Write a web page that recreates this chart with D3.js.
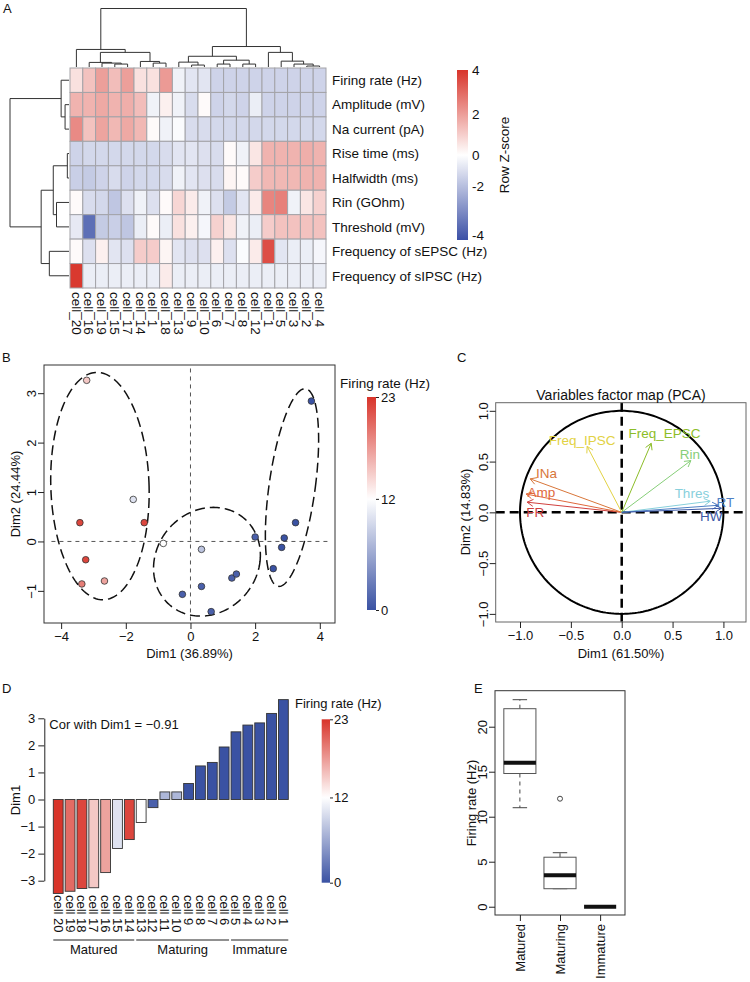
<!DOCTYPE html>
<html><head><meta charset="utf-8">
<script src="https://cdn.jsdelivr.net/npm/d3@7"></script>
<style>
body{margin:0;background:#fff}
text{font-family:"Liberation Sans",Arial,Helvetica,sans-serif;fill:#111}
</style>
</head><body>
<svg id="c" width="750" height="982"></svg>
<script>
// ================= DATA =================
// Panel A — heatmap
const heatCols = ["cell_20","cell_16","cell_19","cell_15","cell_17","cell_14","cell_1","cell_18","cell_13","cell_9","cell_10","cell_6","cell_7","cell_8","cell_12","cell_1","cell_5","cell_3","cell_2","cell_4"];
const heatRows = ["Firing rate (Hz)","Amplitude (mV)","Na current (pA)","Rise time (ms)","Halfwidth (ms)","Rin (GOhm)","Threshold (mV)","Frequency of sEPSC (Hz)","Frequency of sIPSC (Hz)"];
const zFiring = [0.6,1.2,1.9,1.3,1.9,0.6,0.6,2.0,-0.3,-0.6,-0.6,-1.0,-1.0,-1.0,-1.0,-1.0,-1.0,-1.0,-1.0,-1.0];
const zAmp    = [1.5,1.5,1.7,1.5,1.6,1.3,-0.3,0.3,-0.3,-0.8,0.1,-1.0,-0.9,-1.0,-0.4,-1.0,-1.0,-1.0,-1.0,-1.0];
const zNa     = [2.3,1.2,1.8,1.4,1.7,1.4,0.1,-0.3,-0.1,-0.8,-0.8,-0.9,-0.9,-0.9,-0.9,-0.9,-0.9,-0.9,-0.9,-0.9];
const zRise   = [-1.0,-0.9,-0.9,-0.9,-0.9,-0.9,-0.9,-0.8,-0.6,-0.6,-0.7,-0.8,0.1,-0.3,0.5,1.5,1.5,1.5,1.6,1.5];
const zHalf   = [-1.1,-1.2,-1.0,-0.8,-1.0,-0.9,-0.9,-0.8,-0.3,-0.6,-0.7,-0.8,0.2,0.1,1.0,1.4,1.4,1.4,1.5,1.5];
const zRin    = [0.1,-0.8,-0.9,-1.3,-0.7,-0.3,-0.7,0.1,0.8,0.4,-0.3,-0.7,-1.2,-0.6,0.4,2.4,2.5,-0.3,0.5,0.9];
const zThres  = [-0.5,-3.3,-1.2,-1.1,-1.3,-0.4,0.1,-0.4,0.6,0.3,-0.2,0.9,0.5,-0.3,-0.4,1.0,1.2,1.2,1.2,1.2];
const zEPSC   = [0.1,-0.7,0.3,-0.6,-0.7,1.0,1.0,0.2,-0.6,-0.7,-0.7,0.3,-0.7,-0.1,0.4,3.5,-0.6,-0.4,-0.4,-0.2];
const zIPSC   = [3.9,-0.4,-0.4,-0.4,-0.4,-0.4,-0.4,0.4,-0.4,-0.4,-0.4,-0.4,-0.4,-0.4,-0.4,-0.4,-0.4,-0.4,-0.4,-0.4];
const zTicks  = [4,2,0,-2,-4];
// dendrograms (hclust-style merges: negative = leaf position, positive = earlier merge)
const colMerge  = [[-4,-5],[-3,1],[-2,2],[-7,-8],[-6,4],[3,5],[-1,6],[-10,-11],[-9,8],[-12,-13],[-14,-15],[10,11],[9,12],[-19,-20],[-18,14],[-17,15],[-16,16],[13,17],[7,18]];
const colHeight = [0.3,0.4,0.47,0.4,0.57,1.5,1.8,0.2,0.5,0.3,0.3,0.7,1.1,0.1,0.3,0.6,1.5,2.1,6.0];
const rowMerge  = [[-2,-3],[-1,1],[-4,-5],[-6,-7],[3,4],[-8,-9],[5,6],[2,7]];
const rowHeight = [0.4,0.8,0.17,1.27,1.6,2.0,2.83,6.0];

// Panel B — individuals PCA
const pcaDim1   = [-3.21,-1.77,-3.42,-1.43,-3.24,-3.36,-2.66,-0.84,0.34,-0.25,0.34,0.64,1.28,1.42,2.00,2.56,2.82,2.90,3.25,3.74];
const pcaDim2   = [3.26,0.85,0.38,0.38,-0.37,-0.86,-0.80,-0.04,-0.16,-1.07,-0.91,-1.42,-0.74,-0.66,0.09,-0.55,-0.12,0.07,0.38,2.84];
const pcaFiring = [15,10,22,22,22,19,17,12,8,1,1,1,1,1,1,0,0,0,0,0];
const ellCx = [-2.80,0.51,3.14], ellCy = [1.12,-0.41,1.09];
const ellAx = [1.52,1.64,0.72], ellKx = [-0.09,0.20,0.40], ellAy = [2.30,1.10,2.00];
const firingTicks = [0,12,23];

// Panel C — variables factor map
const varNames  = ["FR","Amp","INa","Freq_IPSC","Freq_EPSC","Rin","Thres","RT","HW"];
const varDim1   = [-0.93,-0.94,-0.90,-0.34,0.29,0.68,0.87,0.95,0.98];
const varDim2   = [0.10,0.18,0.33,0.65,0.68,0.51,0.11,0.07,0.04];
const varLblD1  = [-0.85,-0.79,-0.74,-0.39,0.42,0.67,0.69,1.02,0.88];
const varLblD2  = [0.00,0.20,0.38,0.71,0.78,0.57,0.19,0.10,-0.04];
const cTicks = [-1.0,-0.5,0.0,0.5,1.0];

// Panel D — Dim1 per cell
const barCells  = ["cell 20","cell 19","cell 18","cell 17","cell 16","cell 15","cell 14","cell 13","cell 12","cell 11","cell 10","cell 9","cell 8","cell 7","cell 6","cell 5","cell 4","cell 3","cell 2","cell 1"];
const barDim1   = [-3.47,-3.39,-3.29,-3.26,-2.70,-1.81,-1.48,-0.85,-0.30,0.28,0.28,0.59,1.24,1.37,1.94,2.50,2.75,2.83,3.18,3.69];
const barFiring = [23,20,22,15,17,10,22,12,1,7,7,0,0,0,0,0,0,0,0,0];
const groupNames = ["Matured","Maturing","Immature"];
const groupSizes = [7,8,5];
const dTicks = [-3,-2,-1,0,1,2,3];

// Panel E — firing rate boxplots
const boxGroups = ["Matured","Maturing","Immature"];
const boxMin = [11,2,0], boxQ1 = [14.8,2,0], boxMed = [16,3.5,0], boxQ3 = [22,5.5,0], boxMax = [23,6,0];
const boxOut = [[],[12],[]];
const eTicks = [0,5,10,15,20];

// ================= STYLE =================
const varColors = ["#D0403E","#E0683C","#D8763A","#E2D244","#8CBD28","#86CE78","#88D0DC","#4F80C4","#3C58A6"];
const BLUE = "#3A52A3", RED = "#D8342A";

// ================= DRAW =================
const svg = d3.select("#c");
const defs = svg.append("defs");
const fmt = d3.format("d");

function gradient(id, scale, d0, d1) {
  const g = defs.append("linearGradient").attr("id", id).attr("x1",0).attr("y1",1).attr("x2",0).attr("y2",0);
  d3.range(0, 1.0001, 0.02).forEach(t => g.append("stop").attr("offset", t).attr("stop-color", scale(d0 + t*(d1-d0))));
}
function label(x, y, t, size=13, extra) {
  const s = svg.append("text").attr("x", x).attr("y", y).attr("font-size", size).text(t);
  if (extra) extra(s);
  return s;
}
function rotLeftTicks(g, off) {
  g.selectAll(".tick text").attr("x", 0).attr("dy", 0).attr("text-anchor", "middle")
    .attr("transform", `translate(${-off},0) rotate(-90)`);
}
function styleAxis(g) {
  g.selectAll("text").attr("font-size", 13).attr("fill", "#111")
    .style("font-family", '"Liberation Sans",Arial,Helvetica,sans-serif');
  g.selectAll("line,path").attr("stroke", "#222");
}

// ---------- Panel A ----------
label(3, 13, "A");
const hx = d3.scaleBand().domain(d3.range(heatCols.length)).range([70, 326]);
const hy = d3.scaleBand().domain(d3.range(heatRows.length)).range([68, 288]);
const zColor = d3.scaleLinear().domain([-4, 0, 4]).range(["#3B50A6", "#FFFFFF", RED]);
const zMatrix = [zFiring, zAmp, zNa, zRise, zHalf, zRin, zThres, zEPSC, zIPSC];
const cellsData = [];
zMatrix.forEach((row, r) => row.forEach((v, c) => cellsData.push({r, c, v})));
svg.append("g").selectAll("rect").data(cellsData).join("rect")
  .attr("x", d => hx(d.c)).attr("y", d => hy(d.r))
  .attr("width", hx.bandwidth()).attr("height", hy.bandwidth())
  .attr("fill", d => zColor(d.v)).attr("stroke", "#A3A3A8").attr("stroke-width", 1);

svg.append("g").selectAll("text").data(heatRows).join("text")
  .attr("x", 332).attr("y", (d, i) => hy(i) + hy.bandwidth()/2).attr("dy", "0.35em")
  .attr("font-size", 13.5).text(d => d);
svg.append("g").selectAll("text").data(heatCols).join("text")
  .attr("transform", (d, i) => `translate(${hx(i) + hx.bandwidth()/2},292) rotate(90)`)
  .attr("dy", "0.35em").attr("font-size", 13.5).text(d => d);

function drawDendro(merge, heights, leafCenter, hScale, vertical) {
  const g = svg.append("g").attr("fill", "none").attr("stroke", "#333").attr("stroke-width", 1);
  const pos = [];
  const node = i => i < 0 ? {p: leafCenter(-i - 1), h: 0} : {p: pos[i - 1], h: heights[i - 1]};
  merge.forEach((m, k) => {
    const a = node(m[0]), b = node(m[1]), hh = heights[k];
    pos[k] = (a.p + b.p) / 2;
    const d = vertical
      ? `M${a.p},${hScale(a.h)}V${hScale(hh)}H${b.p}V${hScale(b.h)}`
      : `M${hScale(a.h)},${a.p}H${hScale(hh)}V${b.p}H${hScale(b.h)}`;
    g.append("path").attr("d", d);
  });
}
drawDendro(colMerge, colHeight, i => hx(i) + hx.bandwidth()/2, d3.scaleLinear().domain([0, 6]).range([67, 8.5]), true);
drawDendro(rowMerge, rowHeight, i => hy(i) + hy.bandwidth()/2, d3.scaleLinear().domain([0, 6]).range([69, 10]), false);

// z-score legend
gradient("gz", zColor, -4, 4);
const zLabelY = d3.scaleLinear().domain([-4, -2, 0, 2, 4]).range([236, 187, 156, 115, 71]);
svg.append("rect").attr("x", 457).attr("y", 70).attr("width", 11).attr("height", 170).attr("fill", "url(#gz)");
svg.append("g").selectAll("text").data(zTicks).join("text")
  .attr("x", 472).attr("y", d => zLabelY(d)).attr("dy", "0.32em").attr("font-size", 13.5).text(d => d);
svg.append("text").attr("transform", "translate(509,155) rotate(-90)").attr("text-anchor", "middle")
  .attr("font-size", 13.5).text("Row Z-score");

// ---------- Panel B ----------
label(2, 362, "B");
const bx = d3.scaleLinear().domain([-4.53, 4.47]).range([44, 335]);
const by = d3.scaleLinear().domain([-1.65, 3.57]).range([623, 365]);
const frColor = d3.scaleLinear().domain([0, 12, 23]).range([BLUE, "#FFFFFF", RED]);

svg.append("g").attr("stroke", "#555").attr("stroke-width", 1).attr("stroke-dasharray", "4,4")
  .call(g => {
    g.append("line").attr("x1", bx(0)).attr("x2", bx(0)).attr("y1", by(3.5)).attr("y2", by(-1.65));
    g.append("line").attr("x1", bx(-4.3)).attr("x2", bx(4.3)).attr("y1", by(0)).attr("y2", by(0));
  });

const ellLine = d3.line().x(d => d[0]).y(d => d[1]);
ellCx.forEach((cx0, k) => {
  const pts = d3.range(0, 2*Math.PI + 0.01, Math.PI/90).map(t => [
    bx(cx0 + ellAx[k]*Math.cos(t) + ellKx[k]*Math.sin(t)),
    by(ellCy[k] + ellAy[k]*Math.sin(t))
  ]);
  svg.append("path").attr("d", ellLine(pts)).attr("fill", "none").attr("stroke", "#111")
    .attr("stroke-width", 1.5).attr("stroke-dasharray", "10,5");
});

svg.append("g").selectAll("circle").data(pcaDim1).join("circle")
  .attr("cx", d => bx(d)).attr("cy", (d, i) => by(pcaDim2[i])).attr("r", 3.3)
  .attr("fill", (d, i) => frColor(pcaFiring[i])).attr("stroke", "#333").attr("stroke-width", 0.8);

svg.append("rect").attr("x", 44).attr("y", 365).attr("width", 291).attr("height", 258)
  .attr("fill", "none").attr("stroke", "#333");
svg.append("g").attr("transform", "translate(0,623)")
  .call(d3.axisBottom(bx).tickValues([-4,-2,0,2,4]).tickSize(6).tickFormat(fmt))
  .call(g => g.select(".domain").remove()).call(styleAxis);
svg.append("g").attr("transform", "translate(44,0)")
  .call(d3.axisLeft(by).tickValues([-1,0,1,2,3]).tickSize(6).tickFormat(fmt))
  .call(g => g.select(".domain").remove()).call(styleAxis).call(g => rotLeftTicks(g, 8));
label(189.5, 658, "Dim1 (36.89%)", 13, s => s.attr("text-anchor", "middle"));
svg.append("text").attr("transform", "translate(20,494) rotate(-90)").attr("text-anchor", "middle")
  .attr("font-size", 13).text("Dim2 (24.44%)");

// B colour legend
gradient("gfr", frColor, 0, 23);
const frBarB = d3.scaleLinear().domain([0, 23]).range([610, 397]);
svg.append("rect").attr("x", 367).attr("y", 397).attr("width", 9).attr("height", 213).attr("fill", "url(#gfr)");
svg.append("g").attr("transform", "translate(376,0)")
  .call(d3.axisRight(frBarB).tickValues(firingTicks).tickSize(3).tickPadding(2).tickFormat(fmt))
  .call(g => g.select(".domain").remove()).call(styleAxis);
label(340, 388, "Firing rate (Hz)", 13.5);

// ---------- Panel C ----------
label(457, 362, "C");
const cxS = d3.scaleLinear().domain([-1.239, 1.222]).range([495.7, 746]);
const cyS = d3.scaleLinear().domain([-1.08, 1.08]).range([622, 402.7]);
svg.append("g").attr("stroke", "#000").attr("stroke-width", 2.5).attr("stroke-dasharray", "9,5")
  .call(g => {
    g.append("line").attr("x1", cxS(0)).attr("x2", cxS(0)).attr("y1", cyS(1.08)).attr("y2", cyS(-1.08));
    g.append("line").attr("x1", cxS(-1.239)).attr("x2", cxS(1.222)).attr("y1", cyS(0)).attr("y2", cyS(0));
  });
const circ = d3.range(0, 2*Math.PI + 0.01, Math.PI/120).map(t => [cxS(Math.cos(t)), cyS(Math.sin(t))]);
svg.append("path").attr("d", ellLine(circ)).attr("fill", "none").attr("stroke", "#000").attr("stroke-width", 2);

varNames.forEach((n, i) => {
  const x0 = cxS(0), y0 = cyS(0), x1 = cxS(varDim1[i]), y1 = cyS(varDim2[i]);
  const ang = Math.atan2(y1 - y0, x1 - x0), L = 7;
  const g = svg.append("g").attr("stroke", varColors[i]).attr("stroke-width", 1).attr("fill", "none");
  g.append("line").attr("x1", x0).attr("y1", y0).attr("x2", x1).attr("y2", y1);
  g.append("path").attr("d",
    `M${x1 - L*Math.cos(ang - Math.PI/6)},${y1 - L*Math.sin(ang - Math.PI/6)}L${x1},${y1}L${x1 - L*Math.cos(ang + Math.PI/6)},${y1 - L*Math.sin(ang + Math.PI/6)}`);
  svg.append("text").attr("x", cxS(varLblD1[i])).attr("y", cyS(varLblD2[i])).attr("dy", "0.35em")
    .attr("text-anchor", "middle").attr("font-size", 13.5).style("fill", varColors[i]).text(n);
});
svg.append("rect").attr("x", 495.7).attr("y", 402.7).attr("width", 250.3).attr("height", 219.3)
  .attr("fill", "none").attr("stroke", "#666");
svg.append("g").attr("transform", "translate(0,622)")
  .call(d3.axisBottom(cxS).tickValues(cTicks).tickSize(6).tickFormat(d3.format(".1f")))
  .call(g => g.select(".domain").remove()).call(styleAxis);
svg.append("g").attr("transform", "translate(495.7,0)")
  .call(d3.axisLeft(cyS).tickValues(cTicks).tickSize(6).tickFormat(d3.format(".1f")))
  .call(g => g.select(".domain").remove()).call(styleAxis).call(g => rotLeftTicks(g, 8));
label(621, 400, "Variables factor map (PCA)", 14, s => s.attr("text-anchor", "middle"));
label(621, 658, "Dim1 (61.50%)", 13, s => s.attr("text-anchor", "middle"));
svg.append("text").attr("transform", "translate(470,512) rotate(-90)").attr("text-anchor", "middle")
  .attr("font-size", 13).text("Dim2 (14.83%)");

// ---------- Panel D ----------
label(2, 693, "D");
const dx = d3.scaleBand().domain(barCells).range([53.3, 288.3]).paddingInner(0.17).paddingOuter(0);
const dy = d3.scaleLinear().domain([-3, 3]).range([880.7, 718.3]);
svg.append("g").selectAll("rect").data(barDim1).join("rect")
  .attr("x", (d, i) => dx(barCells[i])).attr("width", dx.bandwidth())
  .attr("y", d => Math.min(dy(d), dy(0))).attr("height", d => Math.abs(dy(d) - dy(0)))
  .attr("fill", (d, i) => frColor(barFiring[i])).attr("stroke", "#333").attr("stroke-width", 0.9);
svg.append("g").attr("transform", "translate(44.3,0)")
  .call(d3.axisLeft(dy).tickValues(dTicks).tickSize(6).tickSizeOuter(0).tickFormat(fmt))
  .call(styleAxis);
svg.append("text").attr("transform", "translate(20,800) rotate(-90)").attr("text-anchor", "middle")
  .attr("font-size", 13).text("Dim1");
label(49.3, 728.5, "Cor with Dim1 = \u22120.91");
svg.append("g").selectAll("text").data(barCells).join("text")
  .attr("transform", d => `translate(${dx(d) + dx.bandwidth()/2},895) rotate(90)`)
  .attr("dy", "0.35em").attr("font-size", 13).text(d => d);
let start = 0;
groupNames.forEach((gname, k) => {
  const a = barCells[start], b = barCells[start + groupSizes[k] - 1];
  const x1 = dx(a), x2 = dx(b) + dx.bandwidth();
  svg.append("line").attr("x1", x1).attr("x2", x2).attr("y1", 940).attr("y2", 940).attr("stroke", "#222").attr("stroke-width", 1);
  label((x1 + x2)/2, 954, gname, 13, s => s.attr("text-anchor", "middle"));
  start += groupSizes[k];
});
// D colour legend
const frBarD = d3.scaleLinear().domain([0, 23]).range([882.7, 719.3]);
svg.append("rect").attr("x", 321.7).attr("y", 719.3).attr("width", 8.3).attr("height", 163.4).attr("fill", "url(#gfr)");
svg.append("g").attr("transform", "translate(330,0)")
  .call(d3.axisRight(frBarD).tickValues(firingTicks).tickSize(3).tickPadding(1).tickFormat(fmt))
  .call(g => g.select(".domain").remove()).call(styleAxis);
label(295, 708, "Firing rate (Hz)");

// ---------- Panel E ----------
label(474, 693, "E");
const ex = d3.scaleLinear().domain([0.38, 3.62]).range([495, 625]);
const ey = d3.scaleLinear().domain([-0.92, 24]).range([915, 690.7]);
const half = 0.4, stapleHalf = 0.18;
boxGroups.forEach((gname, i) => {
  const c = i + 1;
  const g = svg.append("g");
  g.append("line").attr("x1", ex(c)).attr("x2", ex(c)).attr("y1", ey(boxQ3[i])).attr("y2", ey(boxMax[i]))
    .attr("stroke", "#444").attr("stroke-dasharray", "4,4");
  g.append("line").attr("x1", ex(c)).attr("x2", ex(c)).attr("y1", ey(boxQ1[i])).attr("y2", ey(boxMin[i]))
    .attr("stroke", "#444").attr("stroke-dasharray", "4,4");
  [boxMax[i], boxMin[i]].forEach(v => g.append("line").attr("x1", ex(c - stapleHalf)).attr("x2", ex(c + stapleHalf))
    .attr("y1", ey(v)).attr("y2", ey(v)).attr("stroke", "#444"));
  g.append("rect").attr("x", ex(c - half)).attr("width", ex(c + half) - ex(c - half))
    .attr("y", ey(boxQ3[i])).attr("height", ey(boxQ1[i]) - ey(boxQ3[i]))
    .attr("fill", "#fff").attr("stroke", "#555");
  g.append("line").attr("x1", ex(c - half)).attr("x2", ex(c + half)).attr("y1", ey(boxMed[i])).attr("y2", ey(boxMed[i]))
    .attr("stroke", "#111").attr("stroke-width", 4);
  boxOut[i].forEach(v => g.append("circle").attr("cx", ex(c)).attr("cy", ey(v)).attr("r", 2.5)
    .attr("fill", "none").attr("stroke", "#444"));
});
svg.append("rect").attr("x", 495).attr("y", 690.7).attr("width", 130).attr("height", 224.3)
  .attr("fill", "none").attr("stroke", "#333");
svg.append("g").attr("transform", "translate(495,0)")
  .call(d3.axisLeft(ey).tickValues(eTicks).tickSize(6).tickFormat(fmt))
  .call(g => g.select(".domain").remove()).call(styleAxis).call(g => rotLeftTicks(g, 8));
svg.append("g").attr("transform", "translate(0,915)")
  .call(d3.axisBottom(ex).tickValues([1,2,3]).tickSize(6).tickFormat((d, i) => boxGroups[i]))
  .call(g => g.select(".domain").remove()).call(styleAxis)
  .call(g => g.selectAll(".tick text").attr("y", 0).attr("dy", "0.35em").attr("text-anchor", "end")
    .attr("transform", "translate(0,9) rotate(-90)"));
svg.append("text").attr("transform", "translate(476,803) rotate(-90)").attr("text-anchor", "middle")
  .attr("font-size", 13).text("Firing rate (Hz)");
</script>
</body></html>
